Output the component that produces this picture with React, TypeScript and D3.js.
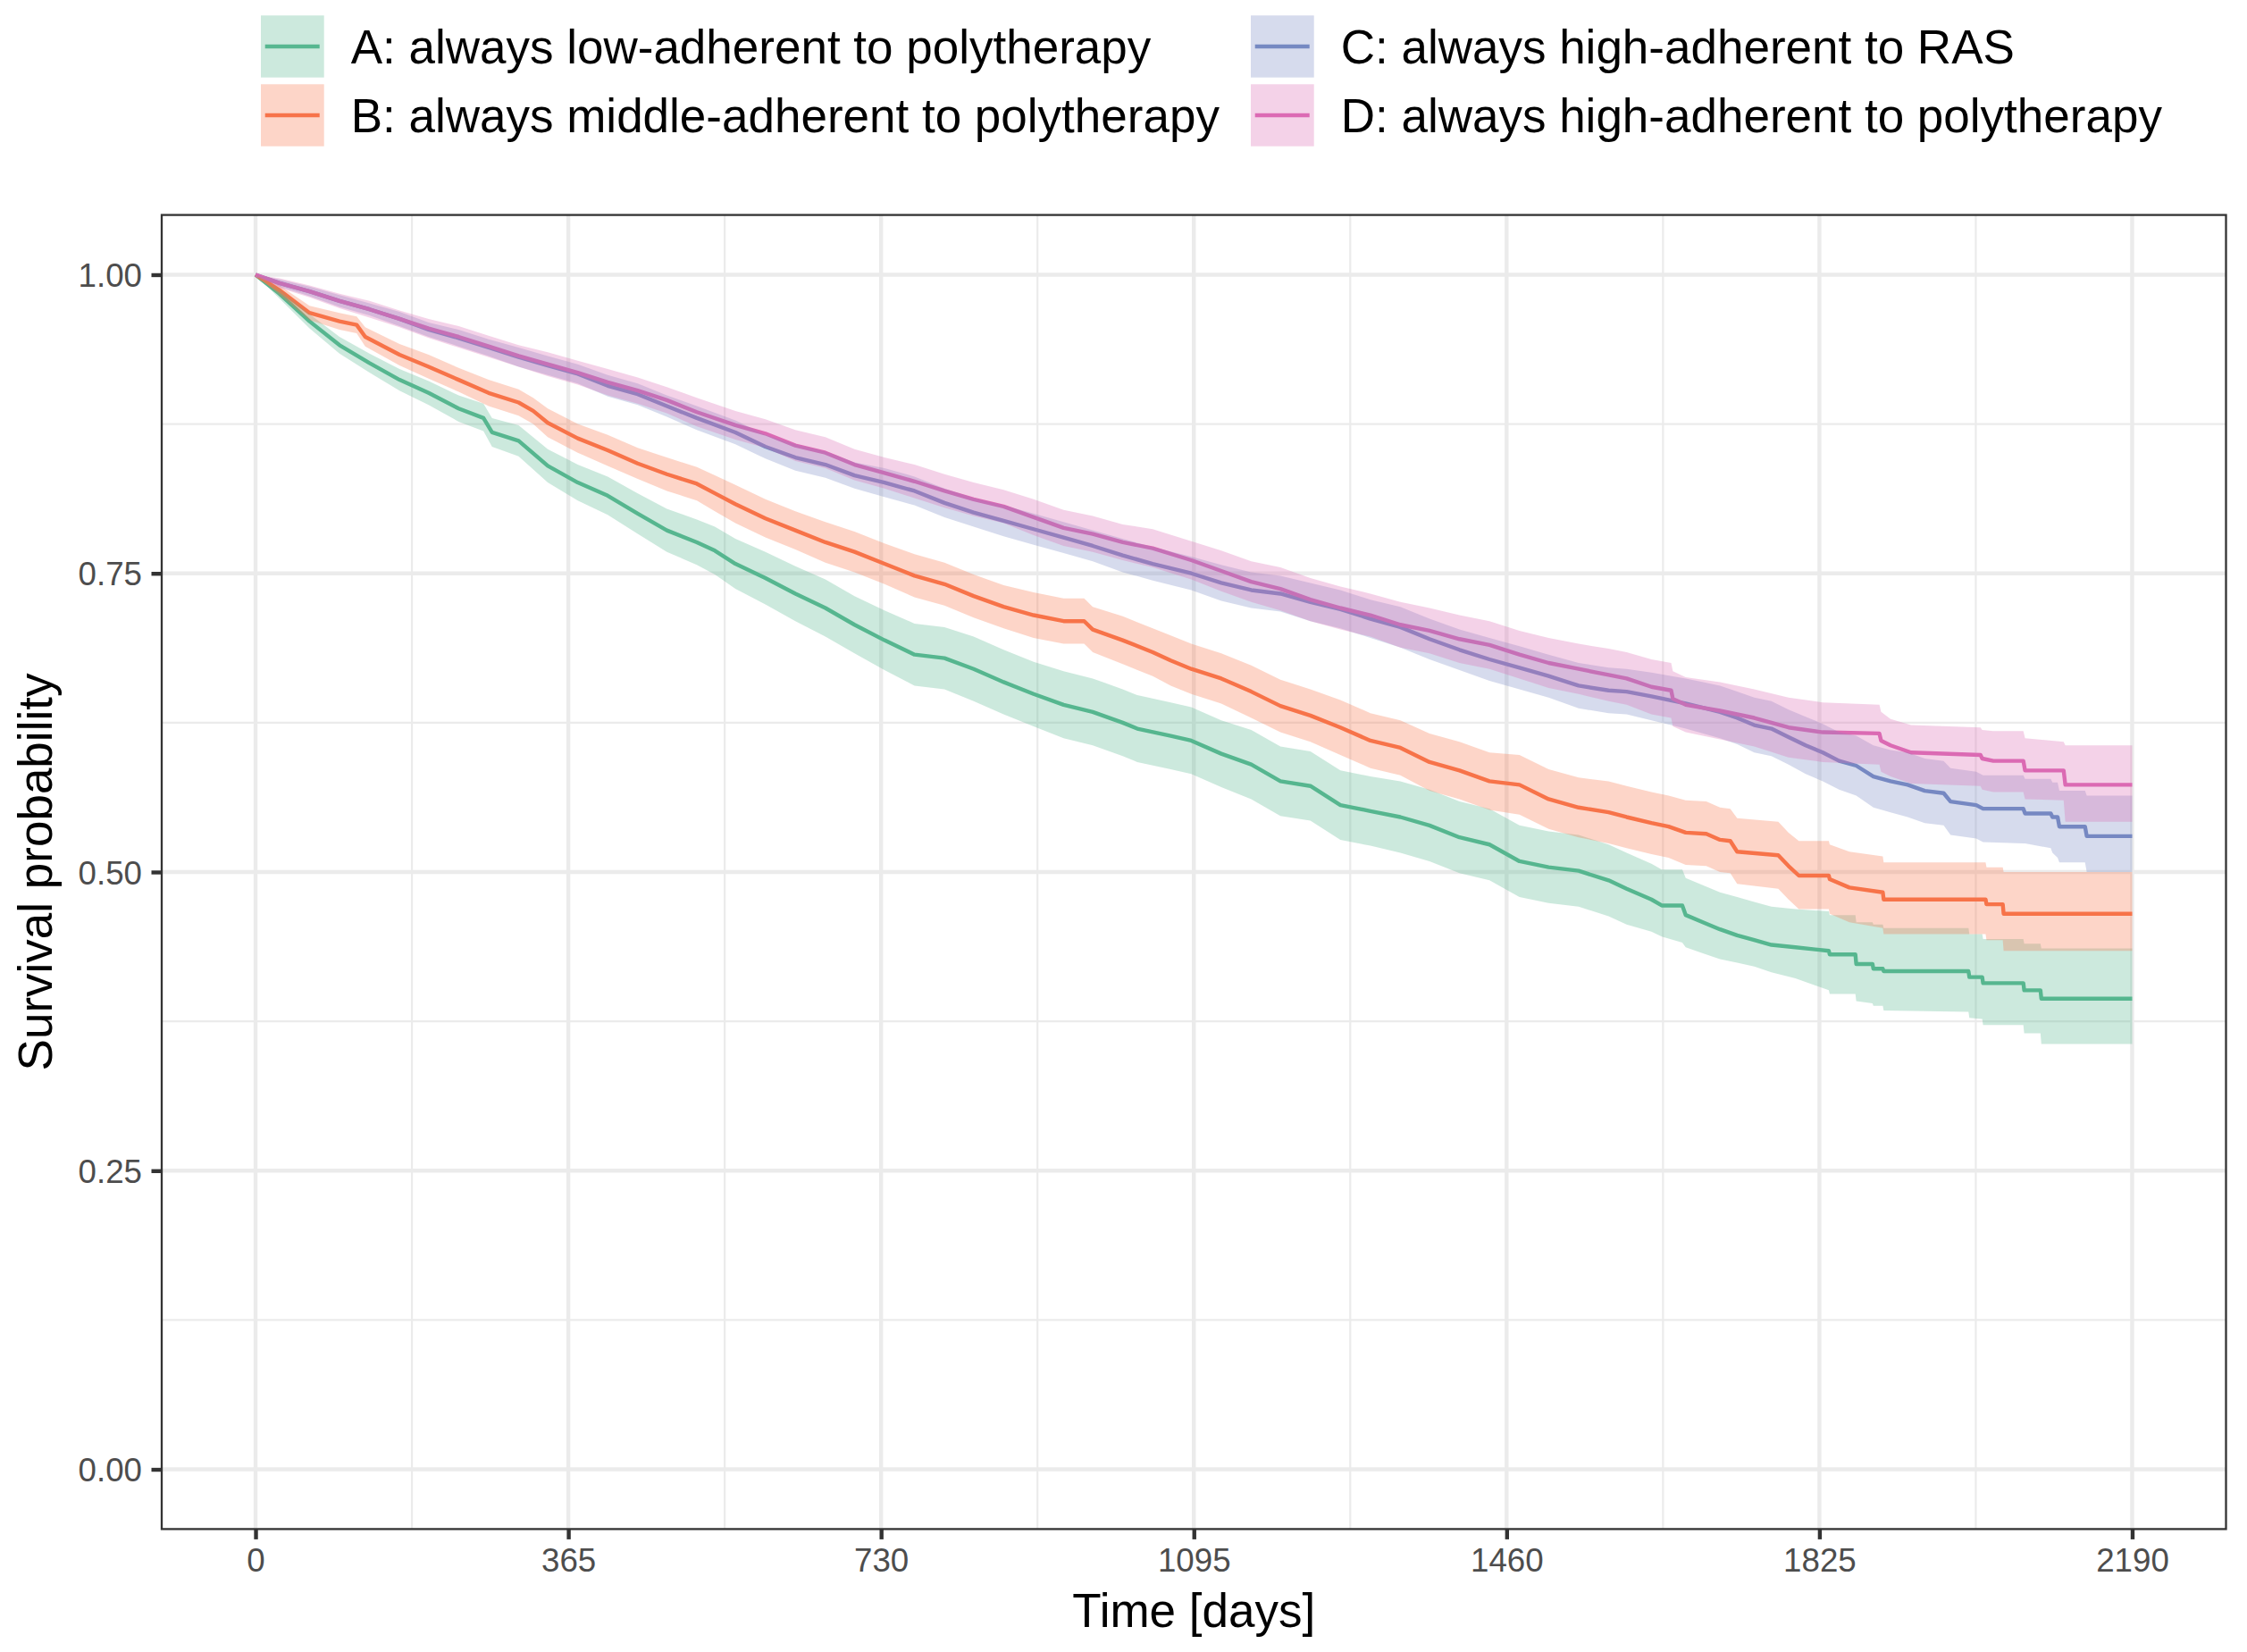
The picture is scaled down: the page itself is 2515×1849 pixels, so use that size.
import { useEffect, useRef } from "react"
import * as d3 from "d3"

// each row: [day, survival, lower CI, upper CI]
type Row = [number, number, number, number]

const groupNames = [
  "A: always low-adherent to polytherapy",
  "B: always middle-adherent to polytherapy",
  "C: always high-adherent to RAS",
  "D: always high-adherent to polytherapy",
]
const groupColors = ["#57B790", "#F7734A", "#7689C2", "#DC6AB4"]

const groupA: Row[] = [
  [0, 1, 1, 1], [28, 0.984, 0.98, 0.988], [63, 0.961, 0.955, 0.967], [98, 0.941, 0.934, 0.948],
  [133, 0.926, 0.918, 0.934], [168, 0.912, 0.903, 0.921], [202, 0.901, 0.891, 0.911], [237, 0.888, 0.877, 0.899],
  [266, 0.88, 0.869, 0.892], [276, 0.868, 0.856, 0.88], [307, 0.861, 0.848, 0.874], [341, 0.84, 0.826, 0.854],
  [376, 0.826, 0.811, 0.841], [411, 0.815, 0.799, 0.831], [446, 0.8, 0.783, 0.817], [480, 0.786, 0.768, 0.804],
  [515, 0.776, 0.757, 0.795], [536, 0.769, 0.749, 0.789], [560, 0.758, 0.737, 0.779], [595, 0.746, 0.724, 0.768],
  [630, 0.733, 0.71, 0.756], [665, 0.721, 0.697, 0.745], [699, 0.707, 0.683, 0.731], [734, 0.694, 0.669, 0.719],
  [769, 0.682, 0.656, 0.708], [804, 0.679, 0.653, 0.705], [838, 0.67, 0.643, 0.697], [873, 0.659, 0.632, 0.686],
  [908, 0.649, 0.622, 0.676], [943, 0.64, 0.612, 0.668], [977, 0.634, 0.606, 0.662], [1012, 0.625, 0.597, 0.653],
  [1029, 0.62, 0.592, 0.648], [1068, 0.614, 0.586, 0.642], [1092, 0.61, 0.582, 0.638], [1127, 0.599, 0.571, 0.627],
  [1162, 0.59, 0.561, 0.619], [1196, 0.576, 0.547, 0.605], [1231, 0.572, 0.543, 0.601], [1266, 0.556, 0.527, 0.585],
  [1301, 0.551, 0.522, 0.58], [1336, 0.546, 0.516, 0.576], [1370, 0.539, 0.509, 0.569], [1405, 0.529, 0.499, 0.559],
  [1440, 0.523, 0.493, 0.553], [1475, 0.509, 0.479, 0.539], [1509, 0.504, 0.474, 0.534], [1544, 0.501, 0.471, 0.531],
  [1579, 0.493, 0.463, 0.523], [1600, 0.486, 0.456, 0.516], [1629, 0.477, 0.45, 0.507], [1641, 0.472, 0.446, 0.502],
  [1665, 0.472, 0.441, 0.502], [1669, 0.464, 0.437, 0.495], [1689, 0.458, 0.432, 0.489], [1709, 0.452, 0.427, 0.483],
  [1729, 0.447, 0.424, 0.479], [1749, 0.443, 0.421, 0.475], [1769, 0.439, 0.416, 0.471], [1797, 0.437, 0.411, 0.469],
  [1836, 0.434, 0.401, 0.467], [1837, 0.431, 0.398, 0.464], [1867, 0.431, 0.398, 0.464], [1868, 0.423, 0.392, 0.458],
  [1887, 0.423, 0.39, 0.458], [1888, 0.419, 0.388, 0.456], [1899, 0.419, 0.388, 0.456], [1900, 0.417, 0.384, 0.453],
  [1999, 0.417, 0.383, 0.453], [2000, 0.412, 0.378, 0.448], [2015, 0.412, 0.377, 0.448], [2016, 0.407, 0.372, 0.444],
  [2063, 0.407, 0.372, 0.444], [2064, 0.401, 0.365, 0.44], [2083, 0.401, 0.365, 0.44], [2084, 0.394, 0.356, 0.436],
  [2190, 0.394, 0.356, 0.436],
]

const groupB: Row[] = [
  [0, 1, 1, 1], [28, 0.987, 0.983, 0.991], [63, 0.968, 0.962, 0.974], [98, 0.961, 0.954, 0.968],
  [118, 0.958, 0.951, 0.965], [128, 0.948, 0.94, 0.956], [168, 0.933, 0.924, 0.942], [202, 0.923, 0.913, 0.933],
  [237, 0.912, 0.902, 0.922], [272, 0.901, 0.89, 0.912], [307, 0.893, 0.882, 0.904], [324, 0.886, 0.875, 0.897],
  [341, 0.876, 0.864, 0.888], [376, 0.863, 0.851, 0.875], [411, 0.853, 0.84, 0.866], [446, 0.842, 0.829, 0.855],
  [480, 0.833, 0.819, 0.847], [515, 0.825, 0.811, 0.839], [536, 0.817, 0.802, 0.832], [560, 0.808, 0.792, 0.824],
  [595, 0.796, 0.78, 0.812], [630, 0.786, 0.77, 0.802], [665, 0.776, 0.759, 0.793], [699, 0.768, 0.751, 0.785],
  [734, 0.758, 0.741, 0.775], [769, 0.748, 0.73, 0.766], [804, 0.741, 0.723, 0.759], [838, 0.731, 0.713, 0.749],
  [873, 0.722, 0.704, 0.74], [908, 0.715, 0.696, 0.734], [943, 0.71, 0.691, 0.729], [967, 0.71, 0.691, 0.729],
  [977, 0.703, 0.684, 0.722], [1012, 0.694, 0.674, 0.714], [1047, 0.684, 0.664, 0.704], [1068, 0.677, 0.656, 0.698],
  [1092, 0.67, 0.649, 0.691], [1127, 0.662, 0.641, 0.683], [1162, 0.651, 0.629, 0.673], [1196, 0.639, 0.617, 0.661],
  [1231, 0.631, 0.609, 0.653], [1266, 0.621, 0.598, 0.644], [1301, 0.61, 0.587, 0.633], [1336, 0.604, 0.581, 0.627],
  [1370, 0.592, 0.568, 0.616], [1405, 0.585, 0.561, 0.609], [1440, 0.576, 0.552, 0.6], [1475, 0.573, 0.548, 0.598],
  [1509, 0.561, 0.536, 0.586], [1544, 0.554, 0.529, 0.579], [1579, 0.55, 0.524, 0.576], [1600, 0.546, 0.52, 0.572],
  [1629, 0.541, 0.515, 0.567], [1649, 0.538, 0.512, 0.564], [1669, 0.533, 0.506, 0.56], [1693, 0.532, 0.505, 0.559],
  [1709, 0.527, 0.5, 0.554], [1721, 0.526, 0.499, 0.553], [1729, 0.517, 0.49, 0.545], [1777, 0.514, 0.486, 0.542],
  [1789, 0.505, 0.477, 0.533], [1801, 0.497, 0.469, 0.526], [1836, 0.497, 0.469, 0.526], [1837, 0.494, 0.465, 0.523],
  [1860, 0.487, 0.458, 0.517], [1899, 0.483, 0.453, 0.513], [1900, 0.477, 0.448, 0.508], [2019, 0.477, 0.448, 0.508],
  [2020, 0.473, 0.443, 0.504], [2039, 0.473, 0.443, 0.504], [2040, 0.465, 0.434, 0.5], [2190, 0.465, 0.434, 0.5],
]

const groupC: Row[] = [
  [0, 1, 1, 1], [28, 0.993, 0.99, 0.996], [63, 0.986, 0.982, 0.99], [98, 0.978, 0.973, 0.983],
  [133, 0.971, 0.966, 0.976], [168, 0.963, 0.957, 0.969], [202, 0.954, 0.948, 0.96], [237, 0.947, 0.94, 0.954],
  [272, 0.939, 0.932, 0.946], [307, 0.931, 0.923, 0.939], [341, 0.924, 0.916, 0.932], [376, 0.917, 0.909, 0.925],
  [411, 0.907, 0.898, 0.916], [446, 0.9, 0.891, 0.909], [480, 0.89, 0.881, 0.899], [515, 0.88, 0.87, 0.89],
  [560, 0.868, 0.858, 0.878], [595, 0.856, 0.846, 0.866], [630, 0.847, 0.836, 0.858], [665, 0.841, 0.83, 0.852],
  [699, 0.832, 0.821, 0.843], [734, 0.826, 0.814, 0.838], [769, 0.819, 0.807, 0.831], [804, 0.809, 0.797, 0.821],
  [838, 0.801, 0.789, 0.813], [873, 0.794, 0.781, 0.807], [908, 0.787, 0.774, 0.8], [943, 0.78, 0.767, 0.793],
  [977, 0.773, 0.76, 0.786], [1012, 0.765, 0.751, 0.779], [1047, 0.758, 0.744, 0.772], [1092, 0.75, 0.736, 0.764],
  [1127, 0.742, 0.727, 0.757], [1162, 0.736, 0.721, 0.751], [1196, 0.733, 0.718, 0.748], [1231, 0.726, 0.71, 0.742],
  [1266, 0.72, 0.704, 0.736], [1301, 0.712, 0.696, 0.728], [1336, 0.705, 0.688, 0.722], [1370, 0.695, 0.678, 0.712],
  [1405, 0.686, 0.669, 0.703], [1440, 0.678, 0.66, 0.696], [1475, 0.671, 0.653, 0.689], [1509, 0.664, 0.646, 0.682],
  [1544, 0.656, 0.637, 0.675], [1579, 0.652, 0.633, 0.671], [1600, 0.651, 0.632, 0.67], [1629, 0.647, 0.627, 0.667],
  [1669, 0.641, 0.62, 0.662], [1709, 0.634, 0.612, 0.656], [1729, 0.629, 0.607, 0.651], [1749, 0.623, 0.6, 0.646],
  [1769, 0.62, 0.597, 0.643], [1789, 0.613, 0.59, 0.636], [1809, 0.606, 0.582, 0.63], [1829, 0.6, 0.576, 0.624],
  [1848, 0.593, 0.569, 0.617], [1868, 0.589, 0.564, 0.614], [1888, 0.58, 0.554, 0.606], [1908, 0.576, 0.55, 0.602],
  [1928, 0.573, 0.546, 0.6], [1948, 0.568, 0.541, 0.595], [1970, 0.566, 0.539, 0.593], [1978, 0.559, 0.531, 0.587],
  [2008, 0.556, 0.528, 0.584], [2016, 0.553, 0.525, 0.581], [2063, 0.553, 0.524, 0.581], [2065, 0.549, 0.524, 0.578],
  [2095, 0.549, 0.52, 0.578], [2097, 0.546, 0.516, 0.575], [2103, 0.546, 0.512, 0.575], [2105, 0.538, 0.508, 0.568],
  [2135, 0.538, 0.508, 0.568], [2137, 0.53, 0.5, 0.564], [2190, 0.53, 0.5, 0.564],
]

const groupD: Row[] = [
  [0, 1, 1, 1], [28, 0.993, 0.989, 0.997], [63, 0.986, 0.981, 0.991], [98, 0.978, 0.972, 0.984],
  [133, 0.971, 0.964, 0.978], [168, 0.963, 0.956, 0.97], [202, 0.955, 0.947, 0.963], [237, 0.948, 0.939, 0.957],
  [272, 0.94, 0.931, 0.949], [307, 0.932, 0.923, 0.941], [341, 0.925, 0.915, 0.935], [376, 0.918, 0.908, 0.928],
  [411, 0.91, 0.899, 0.921], [446, 0.903, 0.892, 0.914], [480, 0.895, 0.884, 0.906], [515, 0.885, 0.873, 0.897],
  [560, 0.874, 0.862, 0.886], [595, 0.867, 0.855, 0.879], [630, 0.857, 0.844, 0.87], [665, 0.851, 0.838, 0.864],
  [699, 0.841, 0.828, 0.854], [734, 0.834, 0.821, 0.847], [769, 0.827, 0.813, 0.841], [804, 0.819, 0.805, 0.833],
  [838, 0.812, 0.798, 0.826], [873, 0.806, 0.792, 0.82], [908, 0.797, 0.782, 0.812], [943, 0.788, 0.773, 0.803],
  [977, 0.783, 0.768, 0.798], [1012, 0.776, 0.761, 0.791], [1047, 0.771, 0.755, 0.787], [1092, 0.761, 0.745, 0.777],
  [1127, 0.752, 0.735, 0.769], [1162, 0.743, 0.726, 0.76], [1196, 0.737, 0.719, 0.755], [1231, 0.728, 0.71, 0.746],
  [1266, 0.721, 0.703, 0.739], [1301, 0.715, 0.697, 0.733], [1336, 0.707, 0.688, 0.726], [1370, 0.702, 0.683, 0.721],
  [1405, 0.695, 0.675, 0.715], [1440, 0.69, 0.67, 0.71], [1475, 0.682, 0.662, 0.702], [1509, 0.675, 0.654, 0.696],
  [1544, 0.67, 0.649, 0.691], [1579, 0.665, 0.643, 0.687], [1600, 0.662, 0.64, 0.684], [1629, 0.655, 0.632, 0.678],
  [1652, 0.652, 0.629, 0.675], [1654, 0.645, 0.622, 0.668], [1669, 0.64, 0.617, 0.663], [1709, 0.635, 0.611, 0.659],
  [1749, 0.629, 0.605, 0.653], [1789, 0.621, 0.596, 0.646], [1829, 0.617, 0.592, 0.642], [1895, 0.616, 0.59, 0.64],
  [1897, 0.61, 0.584, 0.634], [1908, 0.606, 0.58, 0.628], [1932, 0.6, 0.574, 0.623], [2013, 0.598, 0.572, 0.621],
  [2015, 0.595, 0.569, 0.619], [2028, 0.593, 0.567, 0.618], [2063, 0.593, 0.567, 0.618], [2065, 0.585, 0.561, 0.612],
  [2110, 0.585, 0.56, 0.609], [2112, 0.573, 0.542, 0.606], [2190, 0.573, 0.542, 0.606],
]

const groups = [groupA, groupB, groupC, groupD]

const xTicks = [0, 365, 730, 1095, 1460, 1825, 2190]
const xMinorTicks = [182.5, 547.5, 912.5, 1277.5, 1642.5, 2007.5]
const yTicks = [0, 0.25, 0.5, 0.75, 1]
const yMinorTicks = [0.125, 0.375, 0.625, 0.875]

const W = 2515
const H = 1849
const FONT = "'Liberation Sans', Arial, Helvetica, sans-serif"

export default function App() {
  const svgRef = useRef<SVGSVGElement>(null)

  useEffect(() => {
    if (!svgRef.current) return
    const svg = d3.select(svgRef.current)
    svg.selectAll("*").remove()

    const panel = { left: 181, right: 2491.5, top: 240.6, bottom: 1711.4 }

    // ggplot-style 5% expansion
    const x = d3.scaleLinear().domain([-109.5, 2299.5]).range([panel.left, panel.right])
    const y = d3.scaleLinear().domain([-0.05, 1.05]).range([panel.bottom, panel.top])

    svg.append("rect").attr("width", W).attr("height", H).attr("fill", "#ffffff")

    svg.append("defs").append("clipPath").attr("id", "panel-clip")
      .append("rect")
      .attr("x", panel.left).attr("y", panel.top)
      .attr("width", panel.right - panel.left).attr("height", panel.bottom - panel.top)

    // grid
    const grid = svg.append("g")
    grid.selectAll(".vminor").data(xMinorTicks).enter().append("line")
      .attr("x1", (d) => x(d)).attr("x2", (d) => x(d))
      .attr("y1", panel.top).attr("y2", panel.bottom)
      .attr("stroke", "#EBEBEB").attr("stroke-width", 2.2)
    grid.selectAll(".hminor").data(yMinorTicks).enter().append("line")
      .attr("x1", panel.left).attr("x2", panel.right)
      .attr("y1", (d) => y(d)).attr("y2", (d) => y(d))
      .attr("stroke", "#EBEBEB").attr("stroke-width", 2.2)
    grid.selectAll(".vmajor").data(xTicks).enter().append("line")
      .attr("x1", (d) => x(d)).attr("x2", (d) => x(d))
      .attr("y1", panel.top).attr("y2", panel.bottom)
      .attr("stroke", "#EBEBEB").attr("stroke-width", 4.4)
    grid.selectAll(".hmajor").data(yTicks).enter().append("line")
      .attr("x1", panel.left).attr("x2", panel.right)
      .attr("y1", (d) => y(d)).attr("y2", (d) => y(d))
      .attr("stroke", "#EBEBEB").attr("stroke-width", 4.4)

    const plot = svg.append("g").attr("clip-path", "url(#panel-clip)")

    const line = d3.line<Row>().x((d) => x(d[0])).y((d) => y(d[1]))
    const band = d3.area<Row>().x((d) => x(d[0])).y0((d) => y(d[2])).y1((d) => y(d[3]))

    // survival curves
    groups.forEach((rows, i) => {
      plot.append("path")
        .attr("d", line(rows))
        .attr("fill", "none")
        .attr("stroke", groupColors[i])
        .attr("stroke-width", 4.4)
        .attr("stroke-linejoin", "round")
    })

    // confidence bands on top (alpha 0.3)
    groups.forEach((rows, i) => {
      plot.append("path")
        .attr("d", band(rows))
        .attr("fill", groupColors[i])
        .attr("fill-opacity", 0.3)
        .attr("stroke", "none")
    })

    // panel border
    svg.append("rect")
      .attr("x", panel.left).attr("y", panel.top)
      .attr("width", panel.right - panel.left).attr("height", panel.bottom - panel.top)
      .attr("fill", "none").attr("stroke", "#333333").attr("stroke-width", 2.3)

    // axes
    const gx = svg.append("g")
      .attr("transform", `translate(0,${panel.bottom})`)
      .call(d3.axisBottom(x).tickValues(xTicks).tickSize(11.5).tickPadding(10.3).tickFormat(d3.format("d")))
    gx.select(".domain").remove()
    gx.attr("font-family", FONT).attr("font-size", 36.7)
    gx.selectAll(".tick line").attr("stroke", "#333333").attr("stroke-width", 4.4)
    gx.selectAll(".tick text").attr("fill", "#4D4D4D")

    const gy = svg.append("g")
      .attr("transform", `translate(${panel.left},0)`)
      .call(d3.axisLeft(y).tickValues(yTicks).tickSize(11.5).tickPadding(10.5).tickFormat(d3.format(".2f")))
    gy.select(".domain").remove()
    gy.attr("font-family", FONT).attr("font-size", 36.7)
    gy.selectAll(".tick line").attr("stroke", "#333333").attr("stroke-width", 4.4)
    gy.selectAll(".tick text").attr("fill", "#4D4D4D").attr("dy", "0.36em")

    // axis titles
    svg.append("text")
      .attr("x", (panel.left + panel.right) / 2)
      .attr("y", 1820.7)
      .attr("text-anchor", "middle")
      .attr("font-family", FONT)
      .attr("font-size", 53)
      .attr("fill", "#000000")
      .text("Time [days]")

    svg.append("text")
      .attr("transform", `translate(58.3,${(panel.top + panel.bottom) / 2}) rotate(-90)`)
      .attr("text-anchor", "middle")
      .attr("font-family", FONT)
      .attr("font-size", 53)
      .attr("fill", "#000000")
      .text("Survival probability")

    // legend: two columns, two rows
    const legendCols = [292, 1400]
    const legendRows = [17.3, 94.3]
    const keyW = 70.7
    const keyH = 69.4
    groupNames.forEach((name, i) => {
      const kx = legendCols[Math.floor(i / 2)]
      const ky = legendRows[i % 2]
      const g = svg.append("g")
      g.append("rect")
        .attr("x", kx).attr("y", ky).attr("width", keyW).attr("height", keyH)
        .attr("fill", groupColors[i]).attr("fill-opacity", 0.3)
      g.append("line")
        .attr("x1", kx + 4.7).attr("x2", kx + keyW - 5)
        .attr("y1", ky + keyH / 2).attr("y2", ky + keyH / 2)
        .attr("stroke", groupColors[i]).attr("stroke-width", 4.4)
      g.append("text")
        .attr("x", kx + 100.7)
        .attr("y", ky + keyH / 2 + 19.2)
        .attr("font-family", FONT)
        .attr("font-size", 53)
        .attr("fill", "#000000")
        .text(name)
    })
  }, [])

  return (
    <svg
      ref={svgRef}
      width={W}
      height={H}
      style={{ position: "absolute", left: 0, top: 0, display: "block" }}
    />
  )
}
